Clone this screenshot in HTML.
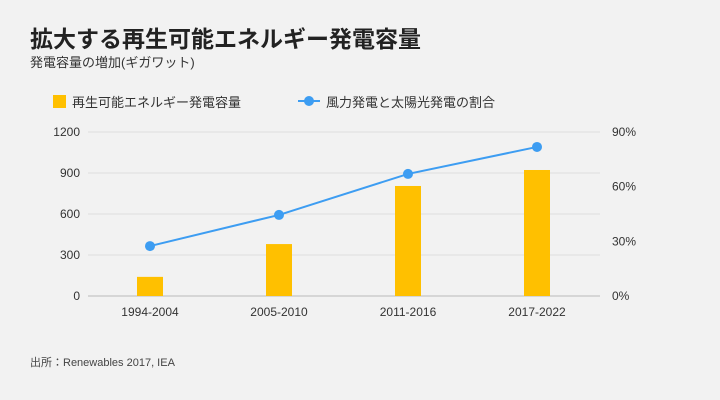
<!DOCTYPE html>
<html><head><meta charset="utf-8"><style>
body{margin:0;width:720px;height:400px;background:#f2f2f2;font-family:"Liberation Sans","Noto Sans CJK JP",sans-serif;overflow:hidden}
</style></head><body>
<svg width="720" height="400" style="position:absolute;left:0;top:0">
<text x="30" y="47" font-size="23" font-weight="bold" fill="#222" font-family="Liberation Sans, Noto Sans CJK JP, sans-serif">拡大する再生可能エネルギー発電容量</text>
<text x="30" y="67" font-size="13" fill="#333" font-family="Liberation Sans, Noto Sans CJK JP, sans-serif">発電容量の増加(ギガワット)</text>
<g>
<rect x="53" y="95" width="13" height="13" fill="#ffc000"/>
<text x="72" y="107" font-size="13" fill="#333" font-family="Liberation Sans, Noto Sans CJK JP, sans-serif">再生可能エネルギー発電容量</text>
<line x1="298" y1="101" x2="320" y2="101" stroke="#3d9df2" stroke-width="2"/>
<circle cx="309" cy="101" r="5" fill="#3d9df2"/>
<text x="326" y="107" font-size="13" fill="#333" font-family="Liberation Sans, Noto Sans CJK JP, sans-serif">風力発電と太陽光発電の割合</text>
</g>
<g id="plot"></g>
<text x="30" y="366" font-size="11" fill="#444" font-family="Liberation Sans, Noto Sans CJK JP, sans-serif">出所：Renewables 2017, IEA</text>
</svg>
<script>
const categories=["1994-2004","2005-2010","2011-2016","2017-2022"];
const capacity=[140,380,805,922];
const share=[27.4,44.5,67,81.8];
const leftTicks=[0,300,600,900,1200];
const rightTicks=[0,30,60,90];
const NS="http://www.w3.org/2000/svg";
const g=document.getElementById('plot');
const x0=88,x1=600,yBase=296,yTop=132;
const yL=v=>yBase-(v/1200)*(yBase-yTop);
const yR=v=>yBase-(v/90)*(yBase-yTop);
const xC=i=>150+i*129;
function mk(t,a){const e=document.createElementNS(NS,t);for(const k in a)e.setAttribute(k,a[k]);g.appendChild(e);return e;}
leftTicks.forEach(v=>{
 const l=mk('line',{x1:x0,x2:x1,y1:yL(v),y2:yL(v),stroke:v===0?'#bbb':'#ddd','stroke-width':1});
 
 
 const t=mk('text',{x:80,y:yL(v)+4,'text-anchor':'end','font-size':12,fill:'#333'});t.textContent=v;
 
 
});
rightTicks.forEach(v=>{
 const t=mk('text',{x:612,y:yR(v)+4,'font-size':12,fill:'#333'});t.textContent=v+'%';
 
 
});
categories.forEach((c,i)=>{
 const r=mk('rect',{x:xC(i)-13,y:yL(capacity[i]),width:26,height:yBase-yL(capacity[i]),fill:'#ffc000'});
 
 
 const t=mk('text',{x:xC(i),y:316,'text-anchor':'middle','font-size':12,fill:'#333'});t.textContent=c;
 
 
});
const p=mk('polyline',{points:share.map((v,i)=>xC(i)+','+yR(v)).join(' '),fill:'none',stroke:'#3d9df2','stroke-width':2});


share.forEach((v,i)=>{
 const c=mk('circle',{cx:xC(i),cy:yR(v),r:5,fill:'#3d9df2'});
 
 
});
</script>
</body></html>
